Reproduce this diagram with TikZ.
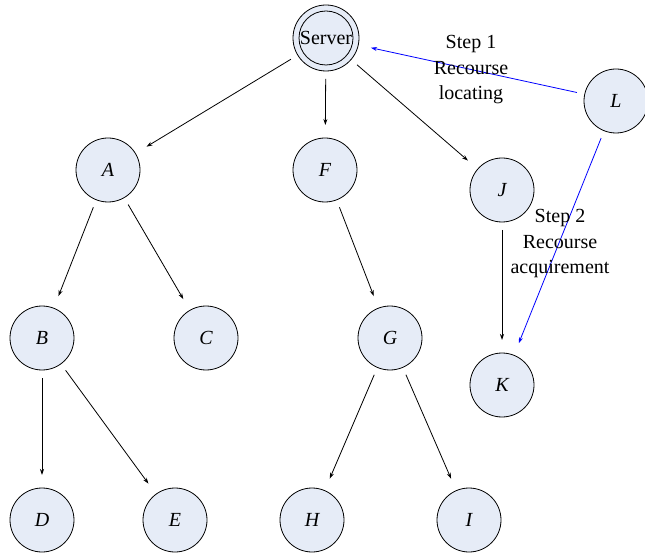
\documentclass[tikz,border=0pt]{standalone}
\usepackage{fontspec}
\setmainfont{Liberation Serif}
\usetikzlibrary{arrows.meta}
\definecolor{peerfill}{RGB}{230,236,247}

\begin{document}
\begin{tikzpicture}[x=1pt,y=-1pt,inner sep=0pt,outer sep=0pt,line width=0.8pt,
peer/.style={draw,circle,fill=peerfill,minimum size=64pt,font=\fontsize{20}{24}\selectfont\itshape},
link/.style={-{Stealth[length=6pt,width=4pt]},shorten <=8pt,shorten >=13pt},
steplink/.style={link,blue},
steptext/.style={align=center,font=\fontsize{20}{25.5}\selectfont}]

\useasboundingbox (0,0) rectangle (645,553);

\draw (326,38) node[draw,circle,fill=peerfill,minimum size=66pt] (server) {};
\draw (server) circle (27);
\node[font=\fontsize{20}{24}\selectfont] at (server) {Server};

\draw (108,170) node[peer] (A) {A};
\draw (325,170) node[peer] (F) {F};
\draw (502,190) node[peer] (J) {J};
\draw (616,101) node[peer] (L) {L};
\draw (42,338) node[peer] (B) {B};
\draw (206,338) node[peer] (C) {C};
\draw (390,338) node[peer] (G) {G};
\draw (502,385) node[peer] (K) {K};
\draw (42,520) node[peer] (D) {D};
\draw (175,520) node[peer] (E) {E};
\draw (312,520) node[peer] (H) {H};
\draw (469,520) node[peer] (I) {I};

\draw[link] (server) -- (A);
\draw[link] (server) -- (F);
\draw[link] (server) -- (J);
\draw[link] (A) -- (B);
\draw[link] (A) -- (C);
\draw[link] (F) -- (G);
\draw[link] (J) -- (K);
\draw[link] (B) -- (D);
\draw[link] (B) -- (E);
\draw[link] (G) -- (H);
\draw[link] (G) -- (I);

\draw[steplink] (L) -- (server);
\draw[steplink] (L) -- (K);

\node[steptext] (step1) at (471,70) {Step 1\\Recourse\\locating};
\node[steptext] (step2) at (560,244) {Step 2\\Recourse\\acquirement};
\end{tikzpicture}
\end{document}
